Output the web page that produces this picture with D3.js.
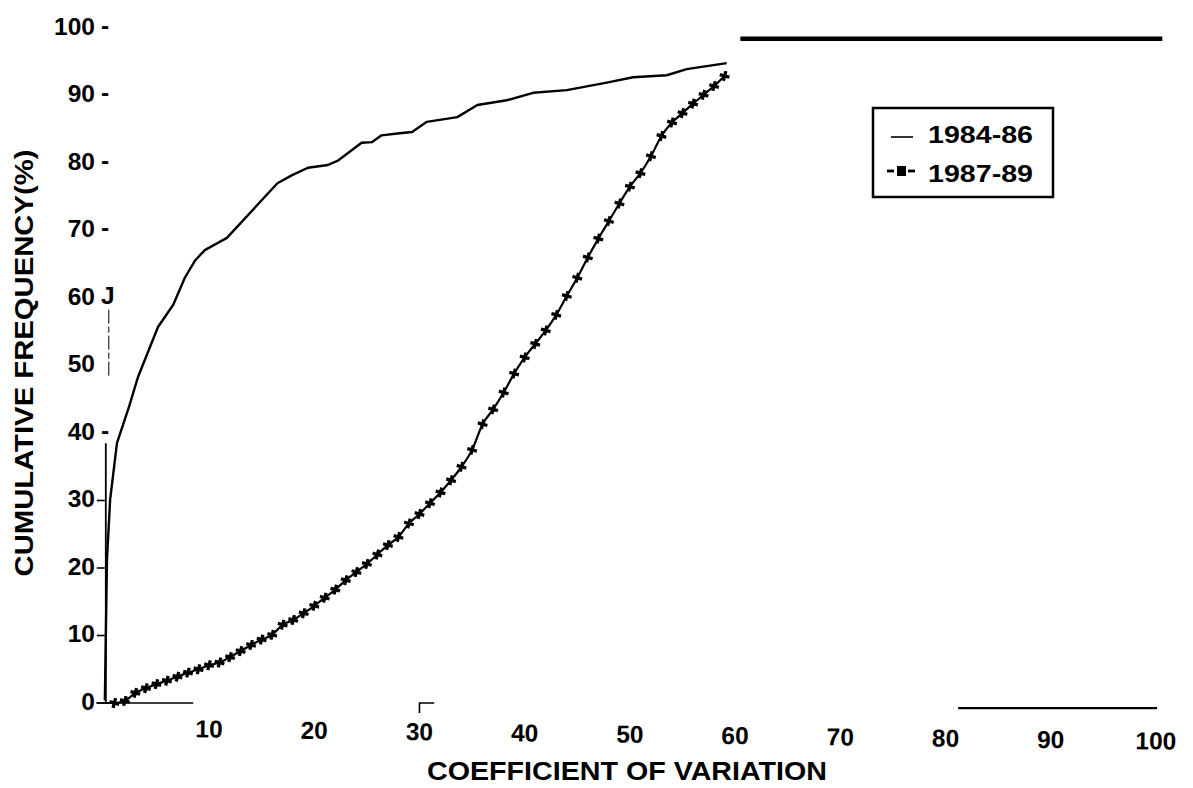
<!DOCTYPE html>
<html>
<head>
<meta charset="utf-8">
<script src="https://cdn.jsdelivr.net/npm/d3@7"></script>
<style>
  html, body { margin: 0; padding: 0; background: #fff; }
  svg { display: block; }
  text { font-family: "Liberation Sans", Arial, Helvetica, sans-serif; font-weight: bold; fill: #000; }
</style>
</head>
<body>
<svg id="chart" width="1193" height="788"></svg>
<script>
// ---- Data ----
const series1984X = [0.1, 0.3, 0.6, 1.25, 2.4, 3.25, 5.15, 6.6, 7.7, 8.7, 9.6, 11.7, 16.5, 17.9, 19.4, 21.3, 22.3, 24.5, 25.5, 26.4, 28.1, 29.3, 30.7, 33.6, 35.5, 38.3, 40.8, 44.0, 47.8, 50.3, 53.5, 55.4, 59.2];
const series1984Y = [0.4, 21.2, 30.1, 38.5, 43.9, 48.3, 55.7, 59.0, 63.0, 65.6, 67.1, 68.9, 77.0, 78.2, 79.3, 79.7, 80.4, 83.0, 83.1, 84.1, 84.4, 84.6, 86.1, 86.8, 88.6, 89.3, 90.4, 90.8, 91.9, 92.7, 93.0, 93.9, 94.8];

const series1987X = [0, 1, 2, 3, 4, 5, 6, 7, 8, 9, 10, 11, 12, 13, 14, 15, 16, 17, 18, 19, 20, 21, 22, 23, 24, 25, 26, 27, 28, 29, 30, 31, 32, 33, 34, 35, 36, 37, 38, 39, 40, 41, 42, 43, 44, 45, 46, 47, 48, 49, 50, 51, 52, 53, 54, 55, 56, 57, 58, 59];
const series1987Y = [0, 0, 0.3, 1.5, 2.2, 2.8, 3.3, 3.9, 4.5, 5.0, 5.6, 6.0, 6.8, 7.7, 8.6, 9.4, 10.1, 11.6, 12.3, 13.3, 14.4, 15.6, 16.8, 18.2, 19.4, 20.6, 22.0, 23.4, 24.6, 26.6, 28.0, 29.6, 31.2, 33.0, 35.0, 37.5, 41.3, 43.5, 46.0, 48.8, 51.2, 53.2, 55.2, 57.5, 60.3, 63.0, 66.0, 68.8, 71.4, 74.0, 76.5, 78.5, 81.0, 84.0, 86.0, 87.4, 88.8, 90.1, 91.4, 92.9];

const xTickValues = [10, 20, 30, 40, 50, 60, 70, 80, 90, 100];
const yTickValues = [0, 10, 20, 30, 40, 50, 60, 70, 80, 90, 100];
const yTickSuffix = ["", "", "", "", "-", "", "J", "-", "-", "-", "-"];
const yTickMarks = [0, 10, 20, 30];
const legendLabels = ["1984-86", "1987-89"];
const xTitle = "COEFFICIENT OF VARIATION";
const yTitle = "CUMULATIVE FREQUENCY(%)";

// remnant frame lines of the scanned figure, in data units
const yAxisPieces = [[0, 38.5], [48.5, 58.3]];
const xAxisPieces = [[-0.7, 8.5, 0]];
const frameTop = [[60.5, 100.6, 98.4]];
const frameBottomRight = [[81.2, 100.1, -0.75]];

// ---- Drawing ----
const svg = d3.select("#chart");
const x = d3.scaleLinear().domain([0, 100]).range([103.8, 1156]);
const y = d3.scaleLinear().domain([0, 100]).range([703, 28]);

// frame remnants
svg.selectAll(".yaxis").data(yAxisPieces).enter().append("line")
  .attr("x1", (d, i) => x(0) + 2 + i * 3).attr("x2", (d, i) => x(0) + 2 + i * 3)
  .attr("y1", d => y(d[0])).attr("y2", d => y(d[1]))
  .attr("stroke", "#000").attr("stroke-width", (d, i) => i ? 1 : 1.8)
  .attr("stroke-dasharray", (d, i) => i ? "14,3,6,3" : null);
svg.selectAll(".xaxis").data(xAxisPieces).enter().append("line")
  .attr("x1", d => x(d[0])).attr("x2", d => x(d[1]))
  .attr("y1", d => y(d[2])).attr("y2", d => y(d[2]))
  .attr("stroke", "#000").attr("stroke-width", 1.5);
svg.selectAll(".ftop").data(frameTop).enter().append("line")
  .attr("x1", d => x(d[0])).attr("x2", d => x(d[1]))
  .attr("y1", d => y(d[2])).attr("y2", d => y(d[2]))
  .attr("stroke", "#000").attr("stroke-width", 4.5);
svg.selectAll(".fbr").data(frameBottomRight).enter().append("line")
  .attr("x1", d => x(d[0])).attr("x2", d => x(d[1]))
  .attr("y1", d => y(d[2])).attr("y2", d => y(d[2]))
  .attr("stroke", "#000").attr("stroke-width", 2.2);
// small mark near 30
svg.append("path")
  .attr("d", `M${x(30)},${y(0) + 10}V${y(0)}H${x(31.4)}`)
  .attr("fill", "none").attr("stroke", "#000").attr("stroke-width", 1.6);

// y tick marks and labels
svg.selectAll(".ytm").data(yTickMarks).enter().append("line")
  .attr("x1", x(0) - 7).attr("x2", x(0) + 1)
  .attr("y1", d => y(d)).attr("y2", d => y(d))
  .attr("stroke", "#000").attr("stroke-width", 1.6);
const yl = svg.selectAll(".ytl").data(yTickValues).enter().append("g");
yl.append("text")
  .attr("x", 95).attr("y", d => y(d) - 2)
  .attr("text-anchor", "end").attr("dominant-baseline", "central")
  .attr("font-size", 24.5).text(d => d);
yl.append("text")
  .attr("x", 101).attr("y", d => y(d) - 3)
  .attr("text-anchor", "start").attr("dominant-baseline", "central")
  .attr("font-size", 24.5).text((d, i) => yTickSuffix[i]);

// x tick labels (slightly skewed as in the scan)
const xl = svg.append("g").attr("transform", `rotate(0.72, ${x(10)}, 729)`);
xl.selectAll("text").data(xTickValues).enter().append("text")
  .attr("x", d => x(d)).attr("y", 729)
  .attr("text-anchor", "middle").attr("dominant-baseline", "central")
  .attr("font-size", 24.5).text(d => d);

// axis titles
svg.append("text")
  .attr("x", 627).attr("y", 771).attr("text-anchor", "middle").attr("dominant-baseline", "central")
  .attr("font-size", 25).attr("textLength", 400).attr("lengthAdjust", "spacingAndGlyphs")
  .text(xTitle);
svg.append("text")
  .attr("transform", "translate(24,363) rotate(-90)")
  .attr("text-anchor", "middle").attr("dominant-baseline", "central")
  .attr("font-size", 25).attr("textLength", 427).attr("lengthAdjust", "spacingAndGlyphs")
  .text(yTitle);

// series lines
const d1984 = series1984X.map((v, i) => [v, series1984Y[i]]);
const d1987 = series1987X.map((v, i) => [v, series1987Y[i]]);
const lineLinear = d3.line().x(d => x(d[0])).y(d => y(d[1]));
const lineSmooth = d3.line().x(d => x(d[0])).y(d => y(d[1])).curve(d3.curveMonotoneX);

svg.append("path").datum(d1984).attr("d", lineLinear)
  .attr("fill", "none").attr("stroke", "#000").attr("stroke-width", 2.4)
  .attr("stroke-linejoin", "round");
svg.append("path").datum(d1987).attr("d", lineSmooth)
  .attr("fill", "none").attr("stroke", "#000").attr("stroke-width", 2.2)
  .attr("stroke-linejoin", "round");
svg.selectAll(".mk").data(d1987.slice(1)).enter().append("path")
  .attr("d", d3.symbol().type(d3.symbolCross).size(55))
  .attr("transform", d => `translate(${x(d[0])},${y(d[1])}) rotate(15)`)
  .attr("fill", "#000");

// legend
const lg = svg.append("g");
lg.append("rect").attr("x", 873).attr("y", 108).attr("width", 180).attr("height", 89)
  .attr("fill", "#fff").attr("stroke", "#000").attr("stroke-width", 2.5);
lg.append("line").attr("x1", 891).attr("x2", 913).attr("y1", 137).attr("y2", 137)
  .attr("stroke", "#000").attr("stroke-width", 1.6);
lg.append("line").attr("x1", 887).attr("x2", 894).attr("y1", 171).attr("y2", 171)
  .attr("stroke", "#000").attr("stroke-width", 2.8);
lg.append("rect").attr("x", 897).attr("y", 166).attr("width", 9).attr("height", 10).attr("fill", "#000");
lg.append("line").attr("x1", 908).attr("x2", 915).attr("y1", 171).attr("y2", 171)
  .attr("stroke", "#000").attr("stroke-width", 2.8);
lg.selectAll(".lt").data(legendLabels).enter().append("text")
  .attr("x", 928).attr("y", (d, i) => 143 + i * 39)
  .attr("font-size", 23).attr("textLength", 105).attr("lengthAdjust", "spacingAndGlyphs")
  .text(d => d);
</script>
</body>
</html>
